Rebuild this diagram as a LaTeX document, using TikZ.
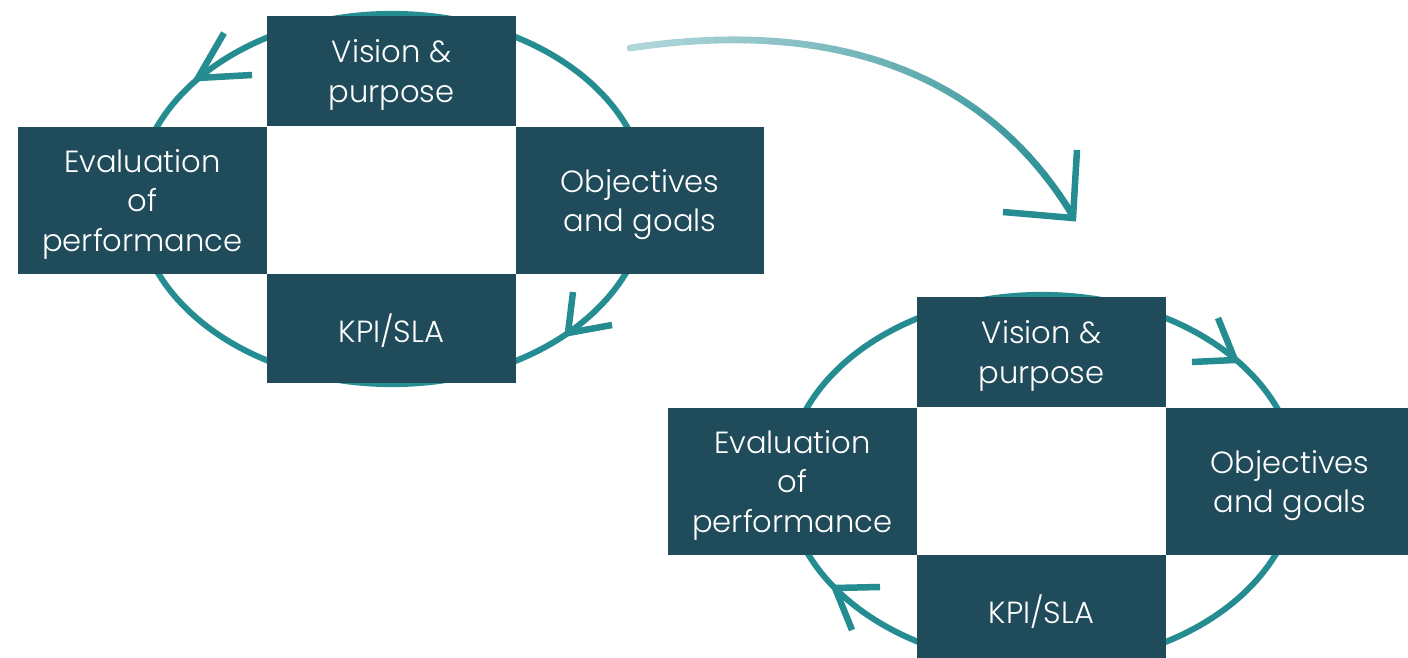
\documentclass[tikz,border=0pt]{standalone}
\usepackage{fontspec}
\setmainfont{Poppins}[UprightFont={* Light}]
\definecolor{boxdark}{RGB}{31,75,91}
\definecolor{ringteal}{RGB}{37,140,145}
\definecolor{arrowlight}{RGB}{176,214,218}
\begin{document}
\begin{tikzpicture}[x=0.01cm,y=-0.01cm,
  box/.style={fill=boxdark,text=white,inner sep=0pt,align=center,text depth=0pt,
    font=\fontsize{8.7}{11.1}\selectfont},
  ring/.style={draw=ringteal,line width=0.06cm},
  barb/.style={draw=ringteal,line width=0.065cm,line join=miter,line cap=butt}]
\useasboundingbox (0,0) rectangle (1408,658);
\clip (0,0) rectangle (1408,658);

% ---------- left cycle ----------
\draw[ring] (392,199) ellipse [x radius=2.55cm, y radius=1.85cm];
\node[box,minimum width=249*0.01cm,minimum height=110*0.01cm] (v1) at (391.5,71) {Vision \&\\purpose};
\node[box,minimum width=249*0.01cm,minimum height=147*0.01cm] (e1) at (142.5,200.5) {Evaluation\\of\\performance};
\node[box,minimum width=248*0.01cm,minimum height=147*0.01cm] (o1) at (640,200.5) {Objectives\\and goals};
\node[box,minimum width=249*0.01cm,minimum height=109*0.01cm] (k1) at (391.5,328.5) {KPI/SLA};
\coordinate (ta) at (198,78);
\draw[barb] (ta) ++(26,-45) -- (ta) -- ++(54,-3);
\coordinate (tb) at (568,333);
\draw[barb] (tb) ++(5,-41) -- (tb) -- ++(44,-8);

% ---------- right cycle ----------
\draw[ring] (1042,480) ellipse [x radius=2.55cm, y radius=1.85cm];
\node[box,minimum width=249*0.01cm,minimum height=110*0.01cm] (v2) at (1041.5,352) {Vision \&\\purpose};
\node[box,minimum width=249*0.01cm,minimum height=147*0.01cm] (e2) at (792.5,481.5) {Evaluation\\of\\performance};
\node[box,minimum width=248*0.01cm,minimum height=147*0.01cm] (o2) at (1290,481.5) {Objectives\\and goals};
\node[box,minimum width=249*0.01cm,minimum height=109*0.01cm] (k2) at (1041.5,609.5) {KPI/SLA};
\coordinate (tc) at (1235,360);
\draw[barb] (tc) ++(-17,-42) -- (tc) -- ++(-43,2);
\coordinate (td) at (835,588);
\draw[barb] (td) ++(45,-1) -- (td) -- ++(17,42);

% ---------- gradient transition arrow ----------
\coordinate (g0) at (630,48);
\coordinate (g1) at (830,18);
\coordinate (g2) at (985,70);
\coordinate (g3) at (1073,216);
\foreach \i in {0,...,40}{
  \path (g0) .. controls (g1) and (g2) .. (g3) coordinate[pos=\i/40] (q\i);
}
\foreach \i [evaluate=\i as \j using int(\i+1), evaluate=\i as \p using int(100*\i/39)] in {0,...,39}{
  \draw[line width=0.068cm,line cap=round,color=ringteal!\p!arrowlight] (q\i) -- (q\j);
}
\coordinate (tg) at (1073,218);
\draw[barb] (tg) ++(4,-68) -- (tg) -- ++(-70,-6);
\end{tikzpicture}
\end{document}
